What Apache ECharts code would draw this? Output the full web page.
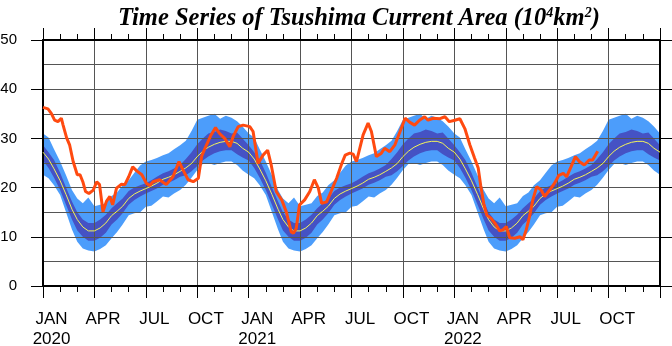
<!DOCTYPE html>
<html><head><meta charset="utf-8">
<script src="https://cdn.jsdelivr.net/npm/echarts@6/dist/echarts.min.js"></script>
<style>html,body{margin:0;padding:0;background:#fff}#c{width:672px;height:346px}</style>
</head><body><div id="c"></div>
<script>
// ---- tick labels ----
const quarterLabels = ['JAN', 'APR', 'JUL', 'OCT'];
const years = [2020, 2021, 2022];
const yTicks = [0, 10, 20, 30, 40, 50];

// ---- climatology (same each year), sampled on days 1, 11, 21 of each month ----
const climDays = [1, 11, 21];
const climMean = [27.2,25.8,23.8, 21.4,18.6,15.6, 13.5,12.0,11.2, 11.2,11.8,12.8, 14.3,15.2,16.2, 17.8,18.7,19.3,
                  19.8,20.3,20.9, 21.7,22.1,22.6, 23.3,24.0,24.9, 26.3,27.4,28.2, 28.8,29.2,29.4, 29.4,29.0,28.0];
const darkHi   = [28.6,27.2,25.6, 23.0,20.0,17.2, 15.0,13.5,12.8, 12.8,13.5,14.5, 15.8,16.8,17.8, 19.3,20.0,20.5,
                  20.9,21.5,22.2, 22.9,23.3,23.9, 24.6,25.8,27.2, 28.8,30.0,31.0, 31.3,31.8,31.5, 31.0,31.2,30.0];
const darkLo   = [25.5,24.0,22.0, 19.5,16.5,13.5, 11.3,10.0,9.2, 9.2,9.8,10.8, 12.5,13.5,14.8, 16.5,17.5,18.2,
                  18.8,19.3,19.8, 20.6,21.0,21.5, 22.2,22.5,23.3, 24.4,25.5,26.3, 27.0,27.4,27.6, 27.6,26.8,26.1];
const lightHi  = [31.0,30.2,27.8, 25.3,22.5,19.5, 17.8,16.8,18.0, 16.2,16.5,16.8, 18.3,19.0,20.5, 21.5,23.0,24.5,
                  25.3,25.6,26.0, 26.6,27.0,27.8, 28.6,29.5,31.5, 33.8,34.2,34.6, 35.0,34.0,34.6, 34.2,33.5,32.4];
const lightLo  = [22.6,21.9,20.5, 18.5,15.0,11.5, 9.0,7.6,7.2, 7.0,7.5,8.3, 9.7,11.0,12.5, 14.4,14.8,15.0,
                  16.1,16.3,17.2, 18.2,18.0,18.8, 19.5,20.6,22.0, 23.6,24.8,25.0, 24.6,25.0,25.3, 25.3,24.6,23.5];

// ---- observed area ----
const obsDates = [
 '2020-01-01','2020-01-10','2020-01-16','2020-01-22','2020-01-28','2020-02-03','2020-02-06','2020-02-12','2020-02-17','2020-02-23',
 '2020-03-01','2020-03-06','2020-03-11','2020-03-16','2020-03-22','2020-03-30','2020-04-05','2020-04-10','2020-04-16','2020-04-22',
 '2020-04-28','2020-05-03','2020-05-10','2020-05-19','2020-05-25','2020-06-01','2020-06-08','2020-06-15','2020-06-24','2020-07-02',
 '2020-07-08','2020-07-14','2020-07-26','2020-08-07','2020-08-19','2020-08-30','2020-09-06','2020-09-15','2020-09-24','2020-10-03',
 '2020-10-09','2020-10-17','2020-10-26','2020-11-03','2020-11-10','2020-11-19','2020-11-28','2020-12-04','2020-12-13','2020-12-22',
 '2021-01-03','2021-01-09','2021-01-18','2021-01-27','2021-02-04','2021-02-10','2021-02-18','2021-02-27','2021-03-07','2021-03-16',
 '2021-03-20','2021-03-25','2021-03-31','2021-04-09','2021-04-18','2021-04-26','2021-05-03','2021-05-09','2021-05-18','2021-05-26',
 '2021-06-05','2021-06-14','2021-06-20','2021-06-28','2021-07-04','2021-07-10','2021-07-22','2021-07-31','2021-08-06','2021-08-15',
 '2021-08-24','2021-08-30','2021-09-08','2021-09-17','2021-09-26','2021-10-05','2021-10-13','2021-10-22','2021-10-31','2021-11-09',
 '2021-11-15','2021-11-24','2021-12-06','2021-12-15','2021-12-23',
 '2022-01-02','2022-01-11','2022-01-20','2022-01-29','2022-02-06','2022-02-12','2022-02-16','2022-02-21','2022-02-26','2022-03-05',
 '2022-03-14','2022-03-21','2022-03-27','2022-04-02','2022-04-08','2022-04-17','2022-04-26','2022-05-01','2022-05-07','2022-05-13',
 '2022-05-19','2022-05-26','2022-06-03','2022-06-09','2022-06-18','2022-06-27','2022-07-04','2022-07-12','2022-07-18','2022-07-26',
 '2022-08-03','2022-08-10','2022-08-19','2022-08-28','2022-09-03','2022-09-12'];
const obsValues = [
 36.3,36.0,35.1,33.7,33.4,34.1,32.7,30.1,28.7,25.3,
 22.6,22.6,21.2,19.2,18.8,19.5,21.2,20.6,15.1,17.2,
 18.2,16.5,19.9,20.7,20.6,22.2,24.2,23.4,22.6,20.9,
 20.4,21.2,21.6,20.6,22.2,25.3,23.6,21.6,21.2,21.9,
 26.4,28.5,30.7,32.2,31.0,30.0,28.3,30.4,32.4,32.7,
 32.4,31.4,24.9,26.6,27.6,24.5,19.2,17.5,15.1,11.0,
 10.7,11.7,16.5,17.5,19.2,21.6,19.9,16.8,17.1,19.2,
 21.9,24.9,26.6,27.0,26.8,25.3,30.7,33.1,31.4,26.3,
 27.0,28.0,27.3,28.7,31.4,34.1,33.3,32.7,33.7,34.4,
 33.7,34.1,34.0,34.4,33.4,
 33.7,34.0,32.0,28.7,26.0,24.0,20.5,16.8,14.4,13.8,
 12.5,11.2,11.4,12.1,9.8,9.7,10.0,9.4,11.4,14.1,
 17.5,20.2,19.5,18.2,19.5,21.0,22.5,22.9,22.2,24.2,
 26.3,25.3,24.6,25.6,25.6,27.4];

// ---- helpers: date -> month coordinate (months since Jan 2020) ----
function toM(y, m, d) {
  const dim = new Date(y, m, 0).getDate();
  return (y - 2020) * 12 + (m - 1) + (d - 1) / dim;
}
function climSeries(arr) {
  const out = [];
  years.forEach(y => {
    for (let m = 1; m <= 12; m++) {
      climDays.forEach((d, k) => out.push([toM(y, m, d), arr[(m - 1) * 3 + k]]));
    }
  });
  out.push([toM(2023, 1, 1), arr[0]]);
  return out;
}
const obsData = obsDates.map((s, i) => {
  const [y, m, d] = s.split('-').map(Number);
  return [toM(y, m, d), obsValues[i]];
});
// quarter labels sit at the middle of their month
const labelValues = [];
years.forEach((y, yi) => quarterLabels.forEach((q, qi) => labelValues.push(yi * 12 + qi * 3 + 0.5)));

const LIGHT = '#4c9dfb', DARK = '#4552c4';
const chart = echarts.init(document.getElementById('c'), null, { renderer: 'canvas' });
const gridLine = { color: '#555', width: 1 };
const sans = 'Liberation Sans, Arial, sans-serif';

function xAx(pos, withLabels) {
  return {
    type: 'value', min: 0, max: 36, interval: 3, position: pos, z: 3,
    axisLine: { show: true, onZero: false, lineStyle: { color: '#000', width: 2 } },
    axisTick: { show: true, length: 12, lineStyle: { color: '#000', width: 1 } },
    minorTick: { show: true, splitNumber: 3, length: 6, lineStyle: { color: '#000', width: 1 } },
    splitLine: { show: withLabels, lineStyle: gridLine },
    axisLabel: withLabels ? {
      show: true, customValues: labelValues, color: '#000', fontFamily: sans, fontSize: 17, lineHeight: 20.5,
      margin: 23,
      formatter: v => {
        const idx = Math.round(v - 0.5);
        const q = quarterLabels[(idx % 12) / 3];
        return idx % 12 === 0 ? q + '\n' + years[idx / 12] : q;
      }
    } : { show: false }
  };
}
function yAx(pos, withLabels) {
  return {
    type: 'value', min: yTicks[0], max: yTicks[yTicks.length - 1], interval: 10, position: pos, z: 3,
    axisLine: { show: true, onZero: false, lineStyle: { color: '#000', width: 2 } },
    axisTick: { show: true, length: 12, lineStyle: { color: '#000', width: 1 } },
    minorTick: { show: false, splitNumber: 2 },
    splitLine: { show: withLabels, lineStyle: gridLine },
    minorSplitLine: { show: withLabels, lineStyle: gridLine },
    axisLabel: withLabels ? { show: true, color: '#000', fontFamily: sans, fontSize: 15, margin: 26 } : { show: false }
  };
}

// Bands: each edge fills down to the axis; painted from the outer-upper edge inwards,
// the lowest edge filled with the background colour. Grid lines are drawn above them.
function edge(name, arr, color, z) {
  return { name, type: 'line', symbol: 'none', silent: true, z, data: climSeries(arr),
           lineStyle: { opacity: 0 }, areaStyle: { color, opacity: 1, origin: 'start' } };
}
chart.setOption({
  animation: false,
  backgroundColor: '#fff',
  title: {
    text: '{t|Time Series of Tsushima Current Area (10}{s|4}{t|km}{s|2}{t|)}',
    left: 113, top: 1,
    textStyle: {
      rich: {
        t: { fontFamily: 'Liberation Serif, Times New Roman, serif', fontStyle: 'italic', fontWeight: 'bold', fontSize: 24.5, color: '#000' },
        s: { fontFamily: 'Liberation Serif, Times New Roman, serif', fontStyle: 'italic', fontWeight: 'bold', fontSize: 14, color: '#000', verticalAlign: 'top' }
      }
    }
  },
  grid: { left: 43, right: 12, top: 40, bottom: 60, containLabel: false, outerBoundsMode: 'none' },
  xAxis: [xAx('bottom', true), xAx('top', false)],
  yAxis: [yAx('left', true), yAx('right', false)],
  series: [
    edge('lightHi', lightHi, LIGHT, 1),
    edge('darkHi', darkHi, DARK, 1.1),
    edge('darkLo', darkLo, LIGHT, 1.2),
    edge('lightLo', lightLo, '#ffffff', 1.3),
    { name: 'mean', type: 'line', symbol: 'none', silent: true, z: 5, data: climSeries(climMean), lineStyle: { color: '#f4f45a', width: 1 } },
    { name: 'obs', type: 'line', symbol: 'none', silent: true, z: 6, data: obsData, lineStyle: { color: '#ff4a10', width: 3 } }
  ]
});
</script></body></html>
